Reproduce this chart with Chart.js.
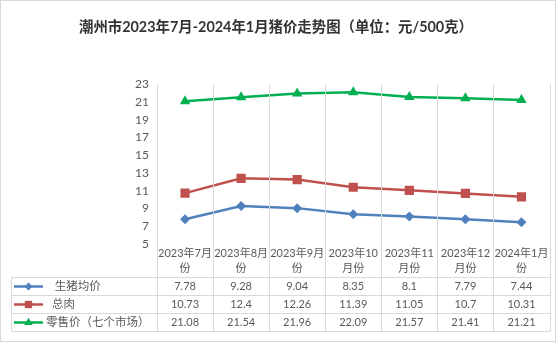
<!DOCTYPE html>
<html>
<head>
<meta charset="utf-8">
<script src="https://cdn.jsdelivr.net/npm/chart.js@4.4.1/dist/chart.umd.min.js"></script>
<style>
  html,body{margin:0;padding:0;background:#fff}
  canvas{display:block}
</style>
</head>
<body>
<canvas id="chart" width="556" height="342"></canvas>
<script>
/* ================= Data ================= */
const chartTitle = '潮州市2023年7月-2024年1月猪价走势图（单位：元/500克）';
const months = [
  ['2023年7月','份'], ['2023年8月','份'], ['2023年9月','份'],
  ['2023年10','月份'], ['2023年11','月份'], ['2023年12','月份'],
  ['2024年1月','份']
];
const seriesNames = ['   生猪均价', '  总肉', '零售价（七个市场）'];
const livePig = [7.78, 9.28, 9.04, 8.35, 8.1, 7.79, 7.44];
const pork    = [10.73, 12.4, 12.26, 11.39, 11.05, 10.7, 10.31];
const retail  = [21.08, 21.54, 21.96, 22.09, 21.57, 21.41, 21.21];
const yMin = 5, yMax = 23, yStep = 2;

/* ================= Style ================= */
const colors = ['#4F81BD', '#C0504D', '#00B050'];
const markers = [['rectRot', 5], ['rect', 6.5], ['triangle', 6]];
const gridColor = '#D9D9D9';
const textColor = '#595959';
const FONT = "Lato, 'Noto Sans CJK SC', sans-serif";

Chart.defaults.font.family = FONT;
Chart.defaults.font.size = 12;
Chart.defaults.color = textColor;

const allSeries = [livePig, pork, retail];

/* ================= Data table plugin ================= */
const dataTable = {
  id: 'dataTable',
  beforeDraw(chart){
    const c = chart.ctx;
    c.save();
    c.fillStyle = '#fff';
    c.fillRect(0, 0, chart.width, chart.height);
    c.strokeStyle = gridColor;
    c.lineWidth = 1;
    c.strokeRect(0.5, 0.5, chart.width - 1, chart.height - 1);
    c.restore();
  },
  afterDraw(chart){
    const c = chart.ctx, x = chart.scales.x, area = chart.chartArea;
    const step = x.getPixelForValue(1) - x.getPixelForValue(0);
    const headTop = area.bottom, headH = 33, rowH = 18;
    const tableTop = headTop + headH;
    const tableBottom = tableTop + rowH * allSeries.length;
    const tableLeft = 11.5;
    const px = v => Math.round(v) + 0.5;

    c.save();
    c.strokeStyle = gridColor;
    c.lineWidth = 1;
    c.beginPath();
    // vertical lines between categories, from plot top down through the table
    for (let i = 0; i <= months.length; i++){
      const lx = px(x.getPixelForValue(i) - step / 2);
      c.moveTo(lx, area.top);
      c.lineTo(lx, tableBottom);
    }
    // left border of the legend column
    c.moveTo(tableLeft, tableTop);
    c.lineTo(tableLeft, tableBottom);
    // horizontal rows
    for (let r = 0; r <= allSeries.length; r++){
      const ly = px(tableTop + r * rowH);
      c.moveTo(tableLeft, ly);
      c.lineTo(px(area.right), ly);
    }
    c.stroke();

    // header (category labels)
    c.fillStyle = textColor;
    c.font = '11px ' + FONT;
    c.textAlign = 'center';
    c.textBaseline = 'middle';
    months.forEach((lines, i) => {
      const cx = x.getPixelForValue(i);
      lines.forEach((t, k) => c.fillText(t, cx, headTop + 9.5 + k * 15));
    });

    // values
    allSeries.forEach((vals, r) => {
      const cy = tableTop + r * rowH + rowH / 2 + 0.5;
      vals.forEach((v, i) => c.fillText(String(v), x.getPixelForValue(i), cy));
    });

    // legend keys + names
    c.textAlign = 'left';
    c.font = '11.5px ' + FONT;
    allSeries.forEach((vals, r) => {
      const cy = tableTop + r * rowH + rowH / 2 + 0.5;
      c.strokeStyle = colors[r];
      c.fillStyle = colors[r];
      c.lineWidth = 2.5;
      c.beginPath();
      c.moveTo(14, cy);
      c.lineTo(43, cy);
      c.stroke();
      Chart.helpers.drawPoint(c, {pointStyle: markers[r][0], radius: markers[r][1] * 0.8, rotation: 0, borderWidth: 0}, 28.5, cy);
      c.fillStyle = textColor;
      c.fillText(seriesNames[r], 46, cy);
    });
    c.restore();
  }
};

/* ================= Chart ================= */
const ctx = document.getElementById('chart');

new Chart(ctx, {
  type: 'line',
  data: {
    labels: months,
    datasets: allSeries.map((vals, r) => ({
      label: seriesNames[r].trim(),
      data: vals,
      borderColor: colors[r],
      backgroundColor: colors[r],
      borderWidth: 2.5,
      pointStyle: markers[r][0],
      pointRadius: markers[r][1],
      pointBorderWidth: 0,
      tension: 0
    }))
  },
  options: {
    responsive: false,
    animation: false,
    devicePixelRatio: 1,
    layout: { padding: { left: 0, right: 4, top: 0, bottom: 0 } },
    plugins: {
      legend: { display: false },
      tooltip: { enabled: false },
      title: {
        display: true,
        text: chartTitle,
        color: '#333333',
        font: { size: 14.4, weight: 'bold', family: FONT },
        padding: { top: 19, bottom: 47.9 }
      }
    },
    scales: {
      x: {
        offset: true,
        grid: { display: false, drawTicks: false },
        border: { display: false },
        ticks: { display: false },
        afterFit(scale){ scale.height = 98; }
      },
      y: {
        min: yMin,
        max: yMax,
        grid: { display: false, drawTicks: false },
        border: { display: false },
        ticks: { stepSize: yStep, padding: 8, color: textColor, font: { size: 12 } },
        afterFit(scale){ scale.width = 157; }
      }
    }
  },
  plugins: [dataTable]
});
</script>
</body>
</html>
